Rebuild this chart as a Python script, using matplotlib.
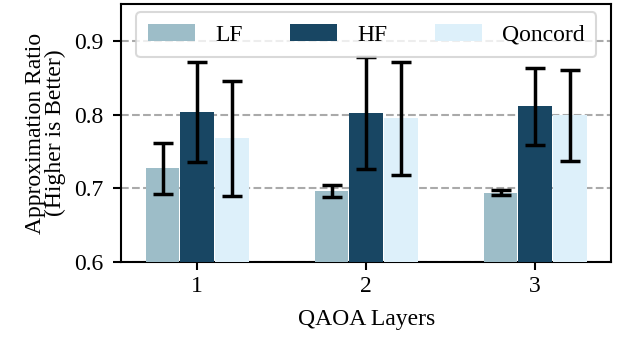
import numpy as np
import matplotlib.pyplot as plt

plt.rcParams['font.family'] = ['Liberation Serif', 'DejaVu Serif']
plt.rcParams['mathtext.fontset'] = 'stix'

layers = [1, 2, 3]
lf_vals = [0.727, 0.696, 0.694]
lf_err = [0.035, 0.008, 0.003]
hf_vals = [0.803, 0.802, 0.811]
hf_err = [0.068, 0.076, 0.052]
qc_vals = [0.768, 0.795, 0.799]
qc_err = [0.078, 0.077, 0.062]

series = [("LF", lf_vals, lf_err, "#9dbdc8"),
          ("HF", hf_vals, hf_err, "#184663"),
          ("Qoncord", qc_vals, qc_err, "#ddf0fa")]

fig, ax = plt.subplots(figsize=(6.18, 3.41), dpi=100)

x = np.array(layers)
w = 0.2
for i, (name, vals, err, col) in enumerate(series):
    ax.bar(x + (i - 1) * (w + 0.005), vals, w, yerr=err, color=col, label=name,
           zorder=3, error_kw=dict(ecolor="black", elinewidth=2.5, capsize=7, capthick=2.5, zorder=4))

ax.set_xlim(0.55, 3.45)
ax.set_ylim(0.6, 0.95)
ax.set_yticks([0.6, 0.7, 0.8, 0.9])
ax.set_xticks(layers)
ax.yaxis.grid(True, linestyle="--", color="#aaaaaa", linewidth=1.5, zorder=0)
ax.set_axisbelow(True)
ax.tick_params(axis="both", labelsize=17, width=1.5, length=5.5)
ax.tick_params(axis="y", pad=7)
ax.tick_params(axis="x", pad=5)
for s in ax.spines.values():
    s.set_linewidth(1.5)

ax.set_xlabel("QAOA Layers", fontsize=17, labelpad=8)
ax.set_ylabel("Approximation Ratio\n(Higher is Better)", fontsize=17, linespacing=0.95, labelpad=6)

leg = ax.legend(loc="upper center", ncol=3, fontsize=17, handlelength=2.0, handletextpad=0.85,
                columnspacing=2.0, borderaxespad=0.35, borderpad=0.5, framealpha=0.8, fancybox=True)
leg.get_frame().set_linewidth(1.5)
leg.get_frame().set_edgecolor("#d0d0d0")

fig.subplots_adjust(left=0.196, right=0.989, top=0.988, bottom=0.232)
fig.savefig("out.png", dpi=100)
